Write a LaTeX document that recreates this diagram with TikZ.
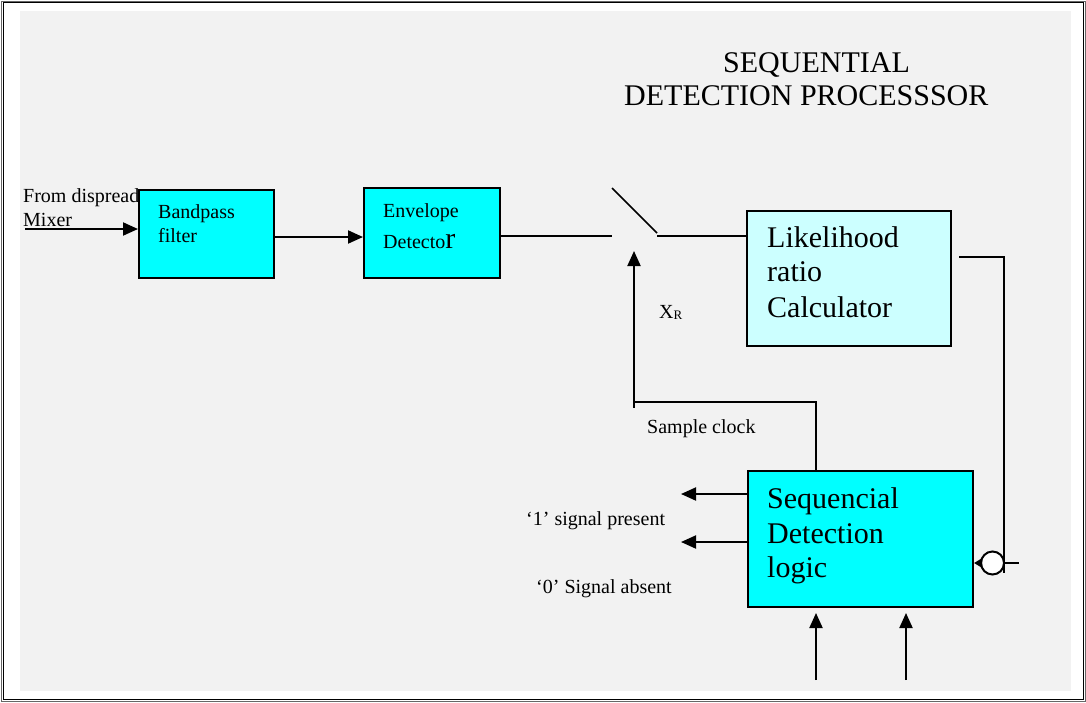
\documentclass[tikz,border=0pt]{standalone}
\usepackage{fontspec}
\setmainfont{Liberation Serif}
\usetikzlibrary{arrows.meta}
\definecolor{bg}{HTML}{F2F2F2}
\definecolor{cy}{HTML}{00FFFF}
\definecolor{lcy}{HTML}{CCFFFF}
\begin{document}
\begin{tikzpicture}[x=1pt,y=-1pt,
  blk/.style={draw=black, line width=2pt, inner sep=0, rectangle},
  txt/.style={anchor=base west, inner sep=0, font=\fontsize{20}{24}\selectfont},
  big/.style={anchor=base west, inner sep=0, font=\fontsize{30}{35}\selectfont},
  wire/.style={line width=2pt},
  arr/.style={wire, -{Triangle[length=15pt,width=13pt]}},
  smallarr/.style={wire, -{Triangle[length=8pt,width=9pt]}},
]
\useasboundingbox (0,0) rectangle (1086,702);
\fill[bg] (20,11) rectangle (1071,691);
\draw[line width=1pt, black!60] (1.5,1) rectangle (1085,701);
\draw[line width=1.5pt] (3.5,2.5) rectangle (1083.5,699.5);

% title
\node[big] (ti1) at (723,72) {SEQUENTIAL};
\node[big] (ti2) at (624,105) {DETECTION PROCESSSOR};

% input label (partly hidden by the box)
\node[txt] (in1) at (23,202) {From dispread};
\node[txt] (in2) at (23,226) {Mixer};

% boxes
\node[blk, fill=cy, minimum width=135pt, minimum height=88pt] (bp) at (206.5,234) {};
\node[blk, fill=cy, minimum width=136pt, minimum height=90pt] (env) at (432,233) {};
\node[blk, fill=lcy, minimum width=204pt, minimum height=135pt] (lr) at (849,278.5) {};
\node[blk, fill=cy, minimum width=225pt, minimum height=136pt] (seq) at (860.5,539) {};

% box texts
\node[txt] (bpt1) at (158,218) {Bandpass};
\node[txt] (bpt2) at (158,242) {filter};
\node[txt] (envt1) at (383,217) {Envelope};
\node[txt] (envt2) at (383,248) {Detecto{\fontsize{30}{30}\selectfont r}};
\node[big] (lrt1) at (767,247) {Likelihood};
\node[big] (lrt2) at (767,281) {ratio};
\node[big] (lrt3) at (767,317) {Calculator};
\node[big] (sqt1) at (767,508) {Sequencial};
\node[big] (sqt2) at (767,543) {Detection};
\node[big] (sqt3) at (767,577) {logic};

% other labels
\node[txt] (xr) at (659,318) {X{\fontsize{13}{13}\selectfont\raisebox{-1pt}{R}}};
\node[txt] (scl) at (647,433) {Sample clock};
\node[txt] (one) at (526,525) {‘1’ signal present};
\node[txt] (zero) at (536,593) {‘0’ Signal absent};

% coordinates
\coordinate (inS) at (25,229);
\coordinate (swL) at (612,236);
\coordinate (swA) at (612,188);
\coordinate (swB) at (657,233);
\coordinate (swR) at (657,236);
\coordinate (clkTip) at (634,251);
\coordinate (clkStub) at (634,408);
\coordinate (clkJ) at (634,401.5);
\coordinate (clkC) at (816,401.5);
\coordinate (fbA) at (959,257);
\coordinate (fbB) at (1004,257);
\coordinate (fbC) at (1004,573);
\coordinate (stub) at (1019,563);
\coordinate (o1) at (681,494);
\coordinate (o0) at (681,542);
\coordinate (b1s) at (816,680);
\coordinate (b1t) at (816,613);
\coordinate (b2s) at (906,680);
\coordinate (b2t) at (906,613);

% connectors
\draw[arr] (inS) -- (bp.west |- inS);
\draw[arr] (bp.east |- 0,237) -- (env.west |- 0,237);
\draw[wire] (env.east |- swL) -- (swL);
\draw[wire, line width=1.6pt] (swA) -- (swB);
\draw[wire] (swR) -- (lr.west |- swR);
\draw[arr] (seq.north -| clkC) -- (clkC) -- (clkJ) -- (clkTip);
\draw[wire] (clkJ) -- (clkStub);
\draw[arr] (seq.west |- o1) -- (o1);
\draw[arr] (seq.west |- o0) -- (o0);
\draw[wire] (fbA) -- (fbB) -- (fbC);
\node[draw=black, line width=2pt, fill=white, circle, minimum size=23pt, inner sep=0] (circ) at (992.5,563) {};
\draw[smallarr] (circ.west) -- (seq.east |- circ.west);
\draw[wire] (circ.east) -- (stub);
\draw[arr] (b1s) -- (b1t);
\draw[arr] (b2s) -- (b2t);
\end{tikzpicture}
\end{document}
